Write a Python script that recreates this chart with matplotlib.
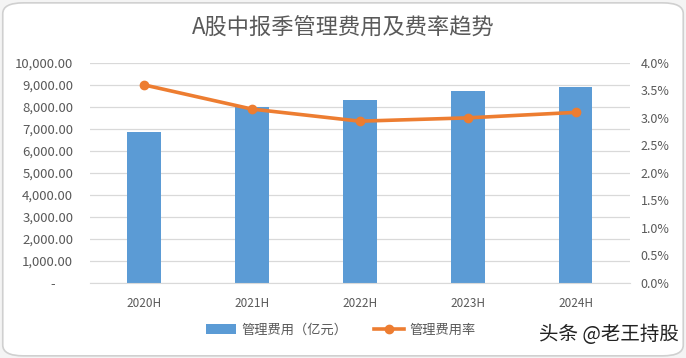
import matplotlib
matplotlib.use("Agg")
import matplotlib.pyplot as plt
from matplotlib.patches import FancyBboxPatch
from matplotlib.ticker import FuncFormatter, MultipleLocator

plt.rcParams['font.family'] = ['Noto Sans CJK SC', 'DejaVu Sans']

categories = ["2020H", "2021H", "2022H", "2023H", "2024H"]
expense = [6880, 8010, 8290, 8700, 8920]          # 管理费用（亿元）
rate = [3.60, 3.16, 2.94, 3.00, 3.10]            # 管理费用率 (%)

bar_color = "#5B9BD5"
line_color = "#ED7D31"
text_color = "#595959"

fig = plt.figure(figsize=(6.86, 3.58), dpi=100)
fig.patch.set_facecolor("#f4f4f4")
# rounded border
border = FancyBboxPatch((0.004, 0.006), 0.992, 0.986, boxstyle="round,pad=0,rounding_size=0.03",
                        transform=fig.transFigure, facecolor="white", edgecolor="#d0d0d0", lw=1.2,
                        zorder=-10)
fig.patches.append(border)

ax = fig.add_axes([0.131, 0.2095, 0.787, 0.615])
ax.set_facecolor("none")
x = list(range(len(categories)))
ax.bar(x, expense, width=0.31, color=bar_color, label="管理费用（亿元）", zorder=2)
ax.set_xlim(-0.5, len(categories) - 0.5)
ax.set_ylim(0, 10000)
ax.yaxis.set_major_locator(MultipleLocator(1000))
ax.yaxis.set_major_formatter(FuncFormatter(lambda v, p: "-      " if v == 0 else f"{v:,.2f}"))
ax.grid(axis="y", color="#d9d9d9", lw=0.9, zorder=0)
ax.set_axisbelow(True)
ax.set_xticks(x)
ax.set_xticklabels(categories)
for s in ax.spines.values():
    s.set_visible(False)
ax.spines['bottom'].set_visible(True)
ax.spines['bottom'].set_color("#d9d9d9")
ax.tick_params(axis="both", length=0, colors=text_color, labelsize=8.5)
ax.tick_params(axis="y", pad=12, labelsize=9.5)
ax.tick_params(axis="x", pad=10)

ax2 = ax.twinx()
ax2.plot(x, rate, color=line_color, lw=2.6, marker="o", markersize=6, label="管理费用率", zorder=3)
ax2.set_ylim(0, 4.0)
ax2.yaxis.set_major_locator(MultipleLocator(0.5))
ax2.yaxis.set_major_formatter(FuncFormatter(lambda v, p: f"{v:.1f}%"))
for s in ax2.spines.values():
    s.set_visible(False)
ax2.tick_params(axis="y", length=0, colors=text_color, labelsize=9, pad=8)

fig.text(0.5, 0.922, "A股中报季管理费用及费率趋势", ha="center", va="center",
         fontsize=16, color="#595959")

h1, l1 = ax.get_legend_handles_labels()
h2, l2 = ax2.get_legend_handles_labels()
fig.legend(h1 + h2, l1 + l2, loc="center", bbox_to_anchor=(0.497, 0.078), ncol=2,
           frameon=False, fontsize=9.5, labelcolor=text_color, handlelength=2.3,
           columnspacing=2.0, handletextpad=0.4)

fig.text(0.99, 0.065, "头条 @老王持股", ha="right", va="center", fontsize=14, color="#222222")

fig.savefig("out.png", dpi=100, facecolor=fig.get_facecolor())
